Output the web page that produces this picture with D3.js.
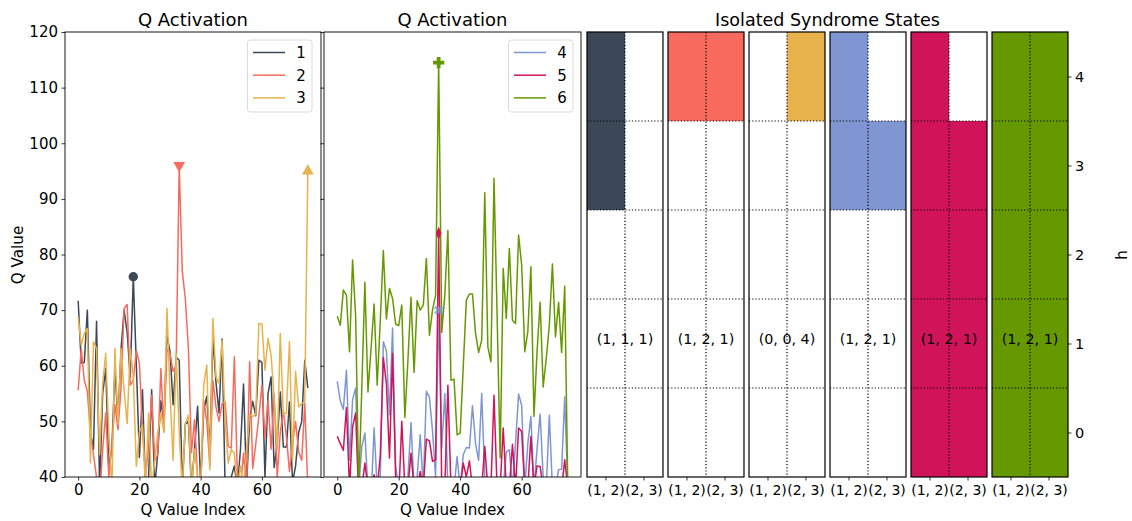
<!DOCTYPE html>
<html>
<head>
<meta charset="utf-8">
<script src="https://cdn.jsdelivr.net/npm/d3@7/dist/d3.min.js"></script>
<style>
  body { margin: 0; background: #fff; }
  text { font-family: "DejaVu Sans", sans-serif; fill: #000; }
</style>
</head>
<body>
<div id="chart"></div>
<script>
// ---- data ----
const seriesNames = ["1", "2", "3", "4", "5", "6"];
const seriesColours = ["#3c4858", "#f86a5d", "#e8b24c", "#7f96d3", "#d11459", "#669900"];

const q1 = [71.7, 60.5, 60.6, 70, 48, 45, 68, 38, 55, 59.5,
            42, 45, 59.5, 50, 63, 70, 66, 58, 76, 60,
            43.5, 55.7, 38, 40, 55.7, 38, 44.5, 53.7, 50, 65.5,
            62.5, 53, 61.5, 61, 38, 49.5, 50, 38, 45, 52.7,
            39, 52, 54.5, 45, 65, 57, 51.5, 64.8, 38, 38,
            40, 42, 38, 45, 56.7, 38.5, 50.5, 53.6, 51, 61,
            60.6, 40, 55, 58, 41.7, 46, 55.3, 45.4, 45.4, 53.5,
            39, 42, 48, 50, 61, 56];
const q2 = [55.6, 63, 57.4, 55.4, 48, 44, 40, 36, 45, 51.5,
            40, 45.5, 53, 48.5, 56, 70.3, 71, 56.5, 57.4, 62.8,
            60.4, 48.5, 40, 45.5, 54.7, 43, 44, 59.5, 48.2, 63,
            62.2, 59, 60, 96, 77, 72, 63, 44.4, 50.3, 40,
            38, 53.8, 50, 42, 57.4, 52.6, 50, 53.2, 53.5, 45.5,
            45.2, 61.6, 40, 38, 44.3, 38, 60.7, 41.5, 46, 50.8,
            56.5, 47, 53.8, 45, 55, 40, 48, 52, 47.3, 41,
            46, 50, 44.5, 43, 53.2, 38];
const q3 = [68.8, 63.7, 65.8, 66.7, 42.5, 64.3, 63.1, 44, 56.8, 62.2,
            47.9, 38, 63.1, 49.5, 63.1, 55.6, 49.6, 63.1, 58, 41.9,
            48, 49.4, 38, 51.5, 38, 43, 48, 51.5, 48, 70.3,
            55, 43, 62.2, 48, 38, 49.6, 51.1, 38, 45, 40,
            38, 56.5, 60.1, 41.3, 68.5, 58, 56.8, 64.6, 50, 42.5,
            44.9, 44.3, 38, 42, 38, 45, 51.2, 50.9, 51.2, 67.6,
            67.5, 59.2, 64.9, 61.9, 54.1, 45, 65.8, 51.2, 51.5, 64.3,
            43, 59, 52.6, 53.2, 53.5, 95];
const q4 = [57.2, 53.7, 52.2, 59.2, 43, 53.9, 56, 38, 45.5, 47.9,
            38, 36, 48.8, 38, 40, 64.3, 62.7, 51.2, 66.8, 42,
            38, 38, 36, 40, 49.8, 38, 40, 47.6, 38, 55.4,
            54.3, 48.3, 40, 70, 45.2, 55, 38, 38, 38, 43.7,
            38, 44, 45.3, 45.2, 52.8, 46, 43, 55, 40, 38,
            38, 38, 38, 38, 38, 44.5, 44.9, 38, 46, 54.9,
            52.9, 38, 46, 50.9, 38, 45, 51.3, 40, 38, 51.1,
            38, 38, 41.3, 41.4, 54.4, 38];
const q5 = [47.3, 46, 44.8, 52.5, 38, 49, 51.5, 36, 38, 42.5,
            38, 36, 40.4, 38, 43.7, 61.5, 56.8, 43.4, 62.2, 40,
            36, 50, 38, 38, 44.3, 38, 38, 41, 38, 46.8,
            46.5, 42.8, 43.1, 83.8, 38, 38, 56.5, 38, 36, 38,
            38, 42.5, 40, 42.9, 38, 38, 38, 38, 45.5, 38,
            38, 54.7, 38, 38, 48.8, 38, 38, 45.9, 38, 48.8,
            48.2, 38, 38, 47.3, 38, 42, 41.9, 38, 38, 38,
            38, 38, 38, 38, 43.1, 38];
const q6 = [68.9, 67.3, 73.6, 72.7, 62.5, 79, 68.8, 38, 56, 75,
            55.3, 63, 71.1, 56.5, 68, 80.7, 68.4, 73.9, 72.1, 67.5,
            67.2, 70.9, 50.7, 61, 72.3, 58.8, 71.7, 70, 70.9, 79.3,
            65.5, 70, 72.7, 114.5, 66, 72.7, 84.3, 57.4, 57.6, 47.6,
            47.9, 59.9, 71.8, 72.9, 72.9, 65.8, 62.4, 64.6, 91.1, 63.4,
            60.7, 93.7, 69.4, 43.4, 77.5, 68.5, 81.1, 68.2, 67.6, 83.5,
            78.1, 62.5, 66.1, 77.8, 50.9, 62.5, 71.4, 56.2, 61.3, 67.3,
            78.3, 65.2, 71.4, 62.4, 74.3, 38];
const qSeries = [q1, q2, q3, q4, q5, q6];
const peakIndex = [18, 33, 75, 33, 33, 33]; // where each series gets its marker

const yTicks = [40, 50, 60, 70, 80, 90, 100, 110, 120];
const xTicks = [0, 20, 40, 60];

const pairLabels = ["(1, 2)", "(2, 3)"];
const hLevels = [0, 1, 2, 3, 4];
const stateLabels = ["(1, 1, 1)", "(1, 2, 1)", "(0, 0, 4)", "(1, 2, 1)", "(1, 2, 1)", "(1, 2, 1)"];
// filled h levels per syndrome panel, one list per pair column
const filledLevels = [
    [[3, 4], []],
    [[4], [4]],
    [[], [4]],
    [[3, 4], [3]],
    [[0, 1, 2, 3, 4], [0, 1, 2, 3]],
    [[0, 1, 2, 3, 4], [0, 1, 2, 3, 4]]
];

// ---- svg ----
const width = 1132, height = 521;
const plotTop = 32, plotBottom = 477;
const tickFs = 15;
const svg = d3.select("#chart").append("svg")
    .attr("width", width)
    .attr("height", height);

const defs = svg.append("defs");
defs.append("clipPath").attr("id", "clipL")
    .append("rect").attr("x", 65).attr("y", plotTop).attr("width", 256).attr("height", plotBottom - plotTop);
defs.append("clipPath").attr("id", "clipM")
    .append("rect").attr("x", 324).attr("y", plotTop).attr("width", 257).attr("height", plotBottom - plotTop);

const y = d3.scaleLinear().domain([40, 120]).range([plotBottom, plotTop]);

// marker shapes, matplotlib style
const markerFor = [
    d3.symbol().type(d3.symbolCircle).size(70),
    d3.symbol().type(d3.symbolTriangle).size(60),
    d3.symbol().type(d3.symbolTriangle).size(60),
    d3.symbol().type(d3.symbolCross).size(55),
    d3.symbol().type(d3.symbolDiamond).size(55),
    d3.symbol().type(d3.symbolCross).size(70)
];
const markerTransform = [
    "", "rotate(180)", "", "rotate(45)", "scale(0.65,1)", ""
];

/**
 * lineAxes - draws one "Q Activation" panel with the given series.
 */
function lineAxes(left, right, clipId, idx, showYLabels, legendX) {
    const x = d3.scaleLinear().domain([-4.3, 79.3]).range([left, right]);
    const g = svg.append("g");

    const line = d3.line()
        .x((d, i) => x(i))
        .y(d => y(d));

    const lines = g.append("g").attr("clip-path", `url(#${clipId})`);
    idx.forEach(s => {
        lines.append("path")
            .attr("d", line(qSeries[s]))
            .attr("fill", "none")
            .attr("stroke", seriesColours[s])
            .attr("stroke-width", 1.5)
            .attr("stroke-linejoin", "round");
    });
    idx.forEach(s => {
        const p = peakIndex[s];
        g.append("path")
            .attr("d", markerFor[s]())
            .attr("transform", `translate(${x(p)},${y(qSeries[s][p])}) ${markerTransform[s]}`)
            .attr("fill", seriesColours[s])
            .attr("opacity", s === 3 ? 0.75 : 1);
    });

    // axes
    const xAxis = d3.axisBottom(x).tickValues(xTicks).tickSize(3.5).tickPadding(3.5);
    const gx = g.append("g").attr("transform", `translate(0,${plotBottom})`).call(xAxis);
    const yAxis = d3.axisLeft(y).tickValues(yTicks).tickSize(3.5).tickPadding(3.5);
    if (!showYLabels) yAxis.tickFormat("");
    const gy = g.append("g").attr("transform", `translate(${left},0)`).call(yAxis);
    [gx, gy].forEach(a => {
        a.select(".domain").remove();
        a.selectAll("text").attr("font-size", tickFs).attr("font-family", "DejaVu Sans");
        a.selectAll("line").attr("stroke-width", 0.8);
    });

    g.append("rect")
        .attr("x", left).attr("y", plotTop)
        .attr("width", right - left).attr("height", plotBottom - plotTop)
        .attr("fill", "none").attr("stroke", "#000").attr("stroke-width", 0.9);

    g.append("text")
        .attr("x", (left + right) / 2).attr("y", 26)
        .attr("text-anchor", "middle").attr("font-size", 18)
        .text("Q Activation");
    g.append("text")
        .attr("x", (left + right) / 2).attr("y", 515)
        .attr("text-anchor", "middle").attr("font-size", 15.2)
        .text("Q Value Index");

    // legend
    const lg = g.append("g").attr("transform", `translate(${legendX},40)`);
    lg.append("rect")
        .attr("width", 64.5).attr("height", 72)
        .attr("rx", 3)
        .attr("fill", "#fff").attr("fill-opacity", 0.8)
        .attr("stroke", "#d6d6d6").attr("stroke-width", 0.9);
    idx.forEach((s, k) => {
        const row = lg.append("g").attr("transform", `translate(0,${12.5 + k * 22.7})`);
        row.append("line")
            .attr("x1", 5.5).attr("x2", 37.5)
            .attr("stroke", seriesColours[s]).attr("stroke-width", 1.5);
        row.append("text")
            .attr("x", 53.5).attr("dy", "0.36em")
            .attr("text-anchor", "middle").attr("font-size", 15)
            .text(seriesNames[s]);
    });
}

lineAxes(65, 321, "clipL", [0, 1, 2], true, 247.5);
lineAxes(324, 581, "clipM", [3, 4, 5], false, 508.5);

svg.append("text")
    .attr("transform", "translate(23,255) rotate(-90)")
    .attr("text-anchor", "middle").attr("font-size", 15.2)
    .text("Q Value");

// ---- Isolated syndrome states ----
const panel = d3.scaleBand().domain(d3.range(6)).range([587, 1068]).paddingInner(0.062);
const bw = panel.bandwidth();
const yH = d3.scaleLinear().domain([-0.5, 4.5]).range([plotBottom, plotTop]);

const hg = svg.append("g");
filledLevels.forEach((cols, s) => {
    const x0 = panel(s);
    const pg = hg.append("g");
    cols.forEach((levels, c) => {
        pg.selectAll(null).data(levels).enter().append("rect")
            .attr("x", x0 + c * bw / 2)
            .attr("y", h => yH(h + 0.5))
            .attr("width", bw / 2)
            .attr("height", h => yH(h - 0.5) - yH(h + 0.5))
            .attr("fill", seriesColours[s]);
    });
    // dotted grid: cell boundaries
    pg.append("line")
        .attr("x1", x0 + bw / 2).attr("x2", x0 + bw / 2)
        .attr("y1", plotTop).attr("y2", plotBottom)
        .attr("stroke", "#000").attr("stroke-width", 1.2).attr("stroke-dasharray", "1.2,2");
    pg.selectAll(null).data([0.5, 1.5, 2.5, 3.5]).enter().append("line")
        .attr("x1", x0).attr("x2", x0 + bw)
        .attr("y1", d => yH(d)).attr("y2", d => yH(d))
        .attr("stroke", "#000").attr("stroke-width", 1.2).attr("stroke-dasharray", "1.2,2");
    pg.append("rect")
        .attr("x", x0).attr("y", plotTop).attr("width", bw).attr("height", plotBottom - plotTop)
        .attr("fill", "none").attr("stroke", "#000").attr("stroke-width", 1.2);

    pg.append("text")
        .attr("x", x0 + bw / 2).attr("y", yH(1) - 5).attr("dy", "0.36em")
        .attr("text-anchor", "middle").attr("font-size", 14.3)
        .text(stateLabels[s]);

    // pair ticks
    pairLabels.forEach((lab, c) => {
        const tx = x0 + bw * (c * 2 + 1) / 4;
        pg.append("line")
            .attr("x1", tx).attr("x2", tx).attr("y1", plotBottom).attr("y2", plotBottom + 3.5)
            .attr("stroke", "#000").attr("stroke-width", 0.8);
        pg.append("text")
            .attr("x", tx).attr("y", plotBottom + 13).attr("dy", "0.36em")
            .attr("text-anchor", "middle").attr("font-size", 14)
            .text(lab);
    });
});

// right hand h axis on the last panel
const hAxis = d3.axisRight(yH).tickValues(hLevels).tickSize(3.5).tickPadding(3.5).tickFormat(d3.format("d"));
const gh = svg.append("g").attr("transform", `translate(${panel(5) + bw},0)`).call(hAxis);
gh.select(".domain").remove();
gh.selectAll("text").attr("font-size", 14.5).attr("font-family", "DejaVu Sans");
gh.selectAll("line").attr("stroke-width", 0.8);

svg.append("text")
    .attr("transform", "translate(1122,255) rotate(-90)")
    .attr("text-anchor", "middle").attr("dy", "0.36em").attr("font-size", 15)
    .text("h");

svg.append("text")
    .attr("x", (587 + 1068) / 2).attr("y", 26)
    .attr("text-anchor", "middle").attr("font-size", 17.5)
    .text("Isolated Syndrome States");
</script>
</body>
</html>
